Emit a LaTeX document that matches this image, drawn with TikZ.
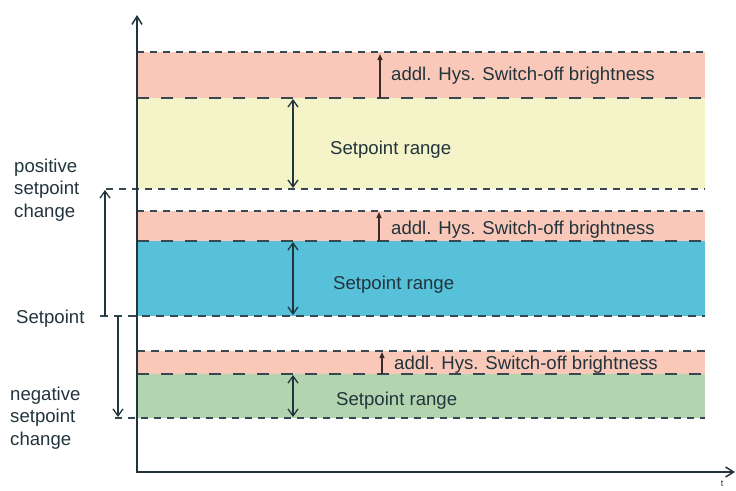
\documentclass[tikz,border=0pt]{standalone}
\usepackage{fontspec}
\setmainfont{Liberation Sans}
\usetikzlibrary{arrows.meta}
\definecolor{txt}{HTML}{22343C}
\definecolor{salmon}{HTML}{F9C8B8}
\definecolor{yel}{HTML}{F5F3C8}
\definecolor{blu}{HTML}{56C1D9}
\definecolor{grn}{HTML}{B2D5AF}
\definecolor{hys}{HTML}{3A2A2A}
\begin{document}
\begin{tikzpicture}[x=1pt,y=-1pt,
  lbl/.style={font=\fontsize{18.6}{22.5}\selectfont, text=txt, inner sep=0pt},
  shortdash/.style={draw=txt!90, line width=1.2pt, dash pattern=on 7pt off 6pt},
  longdash/.style={draw=txt!90, line width=1.2pt, dash pattern=on 12pt off 12pt},
  meddash/.style={draw=txt!90, line width=1.2pt, dash pattern=on 8pt off 6pt},
  dbl/.style={draw=txt, line width=1.3pt, {Straight Barb[length=7pt,width=10pt]}-{Straight Barb[length=7pt,width=10pt]}},
  single/.style={draw=txt, line width=1.3pt, -{Straight Barb[length=7pt,width=10pt]}},
  hysarrow/.style={draw=hys, line width=1.3pt, -{Triangle[length=6pt,width=5pt]}},
  axis/.style={draw=txt, line width=1.5pt, -{Straight Barb[length=8pt,width=10pt]}}]
\useasboundingbox (0,0) rectangle (736,490);
% bands
\fill[salmon] (137,52) rectangle (705,98);
\fill[yel] (137,98) rectangle (705,189);
\fill[salmon] (137,211) rectangle (705,241);
\fill[blu] (137,241) rectangle (705,316);
\fill[salmon] (137,351) rectangle (705,374);
\fill[grn] (137,374) rectangle (705,418);
% coordinates
\coordinate (o) at (137,473);
\coordinate (ytop) at (137,15);
\coordinate (xend) at (735,472);
\coordinate (l52a) at (137,52);   \coordinate (l52b) at (705,52);
\coordinate (l98a) at (137,98);   \coordinate (l98b) at (705,98);
\coordinate (l189a) at (106,189); \coordinate (l189b) at (705,189);
\coordinate (l211a) at (137,211); \coordinate (l211b) at (705,211);
\coordinate (l241a) at (137,241); \coordinate (l241b) at (705,241);
\coordinate (l316a) at (100,316); \coordinate (l316b) at (705,316);
\coordinate (l351a) at (137,351); \coordinate (l351b) at (705,351);
\coordinate (l374a) at (137,374); \coordinate (l374b) at (705,374);
\coordinate (l418a) at (115,418); \coordinate (l418b) at (705,418);
% dashed lines
\draw[shortdash] (l52a) -- (l52b);
\draw[longdash] (l98a) -- (l98b);
\draw[shortdash] (l189a) -- (l189b);
\draw[shortdash] (l211a) -- (l211b);
\draw[longdash] (l241a) -- (l241b);
\draw[meddash] (l316a) -- (l316b);
\draw[meddash] (l351a) -- (l351b);
\draw[longdash] (l374a) -- (l374b);
\draw[shortdash] (l418a) -- (l418b);
% axes
\draw[axis] (o) -- (ytop);
\draw[axis] (137,472) -- (xend);
% hysteresis arrows
\coordinate (h1a) at (380,98);  \coordinate (h1b) at (380,54);
\coordinate (h2a) at (379,241); \coordinate (h2b) at (379,212);
\coordinate (h3a) at (382,374); \coordinate (h3b) at (382,352);
\draw[hysarrow] (h1a) -- (h1b);
\draw[hysarrow] (h2a) -- (h2b);
\draw[hysarrow] (h3a) -- (h3b);
% setpoint range arrows
\coordinate (r1a) at (293,99);  \coordinate (r1b) at (293,188);
\coordinate (r2a) at (293,242); \coordinate (r2b) at (293,315);
\coordinate (r3a) at (293,375); \coordinate (r3b) at (293,417);
\draw[dbl] (r1a) -- (r1b);
\draw[dbl] (r2a) -- (r2b);
\draw[dbl] (r3a) -- (r3b);
% setpoint change arrows
\coordinate (pa) at (105,316); \coordinate (pb) at (105,190);
\coordinate (na) at (118,316); \coordinate (nb) at (118,417);
\draw[single] (pa) -- (pb);
\draw[single] (na) -- (nb);
% labels
\node[lbl, anchor=west] (hys1) at (391,76) {addl. Hys. Switch-off brightness};
\node[lbl, anchor=west] (hys2) at (391,230) {addl. Hys. Switch-off brightness};
\node[lbl, anchor=west] (hys3) at (394,365) {addl. Hys. Switch-off brightness};
\node[lbl, anchor=west] (sr1) at (330,150) {Setpoint range};
\node[lbl, anchor=west] (sr2) at (333,285) {Setpoint range};
\node[lbl, anchor=west] (sr3) at (336,401) {Setpoint range};
\node[lbl, anchor=west, align=left] (pos) at (14,190) {positive\\setpoint\\change};
\node[lbl, anchor=west] (sp) at (16,319) {Setpoint};
\node[lbl, anchor=west, align=left] (neg) at (10,418) {negative\\setpoint\\change};
\node[font=\fontsize{9}{10}\selectfont, text=txt, inner sep=0pt] (t) at (722,484) {t};
\end{tikzpicture}
\end{document}
